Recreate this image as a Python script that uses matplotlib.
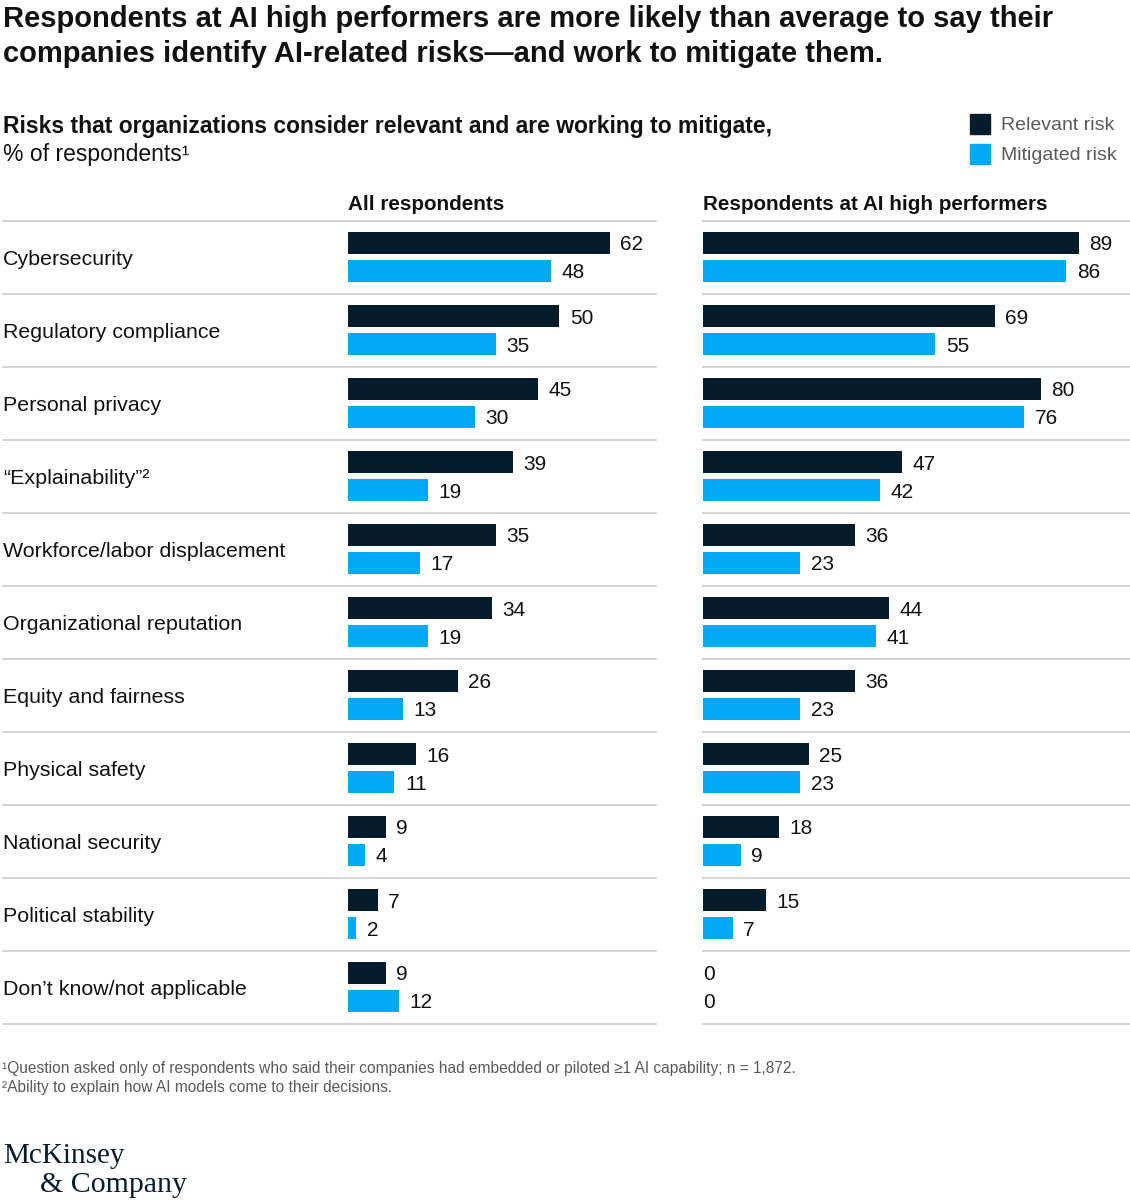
import matplotlib
matplotlib.use("Agg")
import matplotlib.pyplot as plt
from matplotlib.patches import Rectangle
import matplotlib.transforms as mtransforms

plt.rcParams['font.family'] = ['Liberation Sans', 'DejaVu Sans']

categories = [
    "Cybersecurity", "Regulatory compliance", "Personal privacy",
    "\u201cExplainability\u201d\u00b2", "Workforce/labor displacement",
    "Organizational reputation", "Equity and fairness", "Physical safety",
    "National security", "Political stability", "Don\u2019t know/not applicable",
]
all_relevant = [62, 50, 45, 39, 35, 34, 26, 16, 9, 7, 9]
all_mitigated = [48, 35, 30, 19, 17, 19, 13, 11, 4, 2, 12]
hp_relevant = [89, 69, 80, 47, 36, 44, 36, 25, 18, 15, 0]
hp_mitigated = [86, 55, 76, 42, 23, 41, 23, 23, 9, 7, 0]
panel_titles = ["All respondents", "Respondents at AI high performers"]
series_names = ["Relevant risk", "Mitigated risk"]

DARK = "#051C2C"
LIGHT = "#00A9F4"
GRID = "#D0D0D0"
GRAYTXT = "#5A5A5A"

W, H = 1130, 1200
fig = plt.figure(figsize=(W / 100, H / 100), dpi=100)
fig.patch.set_facecolor("white")

def fx(px):
    return px / W

def fy(py):
    return 1 - py / H

PX_PER_UNIT = 4.226
top_px, bot_px = 221, 1024
n = len(categories)

def make_axes(left_px, right_px):
    ax = fig.add_axes([fx(left_px), fy(bot_px), (right_px - left_px) / W, (bot_px - top_px) / H])
    ax.set_xlim(0, (right_px - left_px) / PX_PER_UNIT)
    ax.set_ylim(n, 0)
    ax.axis("off")
    return ax

ax1 = make_axes(348, 656)
ax2 = make_axes(703, 1130)

bar_h = 22 / 73
for ax, rel, mit, line_start_px, line_end_px, left_px, right_px in [
    (ax1, all_relevant, all_mitigated, 3, 656, 348, 656),
    (ax2, hp_relevant, hp_mitigated, 703, 1130, 703, 1130),
]:
    ys = list(range(n))
    y_dark = [i + 22 / 73 for i in ys]
    y_light = [i + 50 / 73 for i in ys]
    ax.barh(y_dark, rel, height=bar_h, color=DARK)
    ax.barh(y_light, mit, height=bar_h, color=LIGHT)
    for yy, vals in [(y_dark, rel), (y_light, mit)]:
        for y, v in zip(yy, vals):
            off = 7.5 if v > 0 else 0
            ax.annotate(str(v), (v, y), xytext=(off, 0), textcoords="offset points",
                        ha="left", va="center_baseline", fontsize=15, color="#111111")
    trans = mtransforms.blended_transform_factory(ax.transAxes, ax.transData)
    w = right_px - left_px
    x0 = (line_start_px - left_px) / w
    x1 = (line_end_px - left_px) / w
    for b in range(n + 1):
        ax.plot([x0, x1], [b, b], transform=trans, color=GRID, lw=1.3,
                clip_on=False, zorder=0)

# category labels
trans1 = mtransforms.blended_transform_factory(fig.transFigure, ax1.transData)
for i, c in enumerate(categories):
    ax1.text(fx(3), i + 0.5, c, transform=trans1, ha="left", va="center_baseline",
             fontsize=15.4, color="#111111")

# titles
fig.text(fx(3), fy(16), "Respondents at AI high performers are more likely than average to say their",
         fontsize=21, fontweight="bold", color="#111111", ha="left", va="center_baseline")
fig.text(fx(3), fy(51), "companies identify AI-related risks\u2014and work to mitigate them.",
         fontsize=21, fontweight="bold", color="#111111", ha="left", va="center_baseline")
fig.text(fx(3), fy(124), "Risks that organizations consider relevant and are working to mitigate,",
         fontsize=16.5, fontweight="bold", color="#111111", ha="left", va="center_baseline")
fig.text(fx(3), fy(152), "% of respondents\u00b9",
         fontsize=16.5, color="#111111", ha="left", va="center_baseline")

# panel titles
fig.text(fx(348), fy(203), panel_titles[0], fontsize=14.9, fontweight="bold",
         color="#111111", ha="left", va="center_baseline")
fig.text(fx(703), fy(203), panel_titles[1], fontsize=14.9, fontweight="bold",
         color="#111111", ha="left", va="center_baseline")

# legend
for (cy, col, name) in [(124, DARK, series_names[0]), (154, LIGHT, series_names[1])]:
    fig.add_artist(Rectangle((fx(970), fy(cy + 10)), 20 / W, 20 / H,
                             transform=fig.transFigure, color=col))
    fig.text(fx(1001), fy(cy), name, fontsize=14, color=GRAYTXT, ha="left",
             va="center_baseline")

# footnotes
fig.text(fx(2), fy(1067),
         "\u00b9Question asked only of respondents who said their companies had embedded or piloted \u22651 AI capability; n = 1,872.",
         fontsize=11.2, color=GRAYTXT, ha="left", va="center_baseline")
fig.text(fx(2), fy(1086), "\u00b2Ability to explain how AI models come to their decisions.",
         fontsize=11.2, color=GRAYTXT, ha="left", va="center_baseline")

# logo
fig.text(fx(3), fy(1153), "McKinsey", fontsize=21, family="Liberation Serif",
         color="#051C2C", ha="left", va="center_baseline")
fig.text(fx(40), fy(1182), "& Company", fontsize=21.5, family="Liberation Serif",
         color="#051C2C", ha="left", va="center_baseline")

fig.savefig("out.png", dpi=100, facecolor="white")
